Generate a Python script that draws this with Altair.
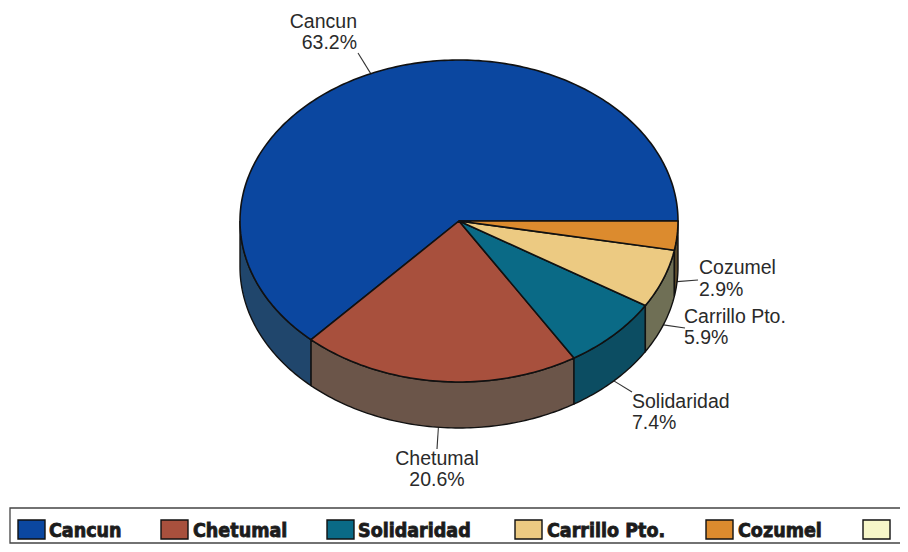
import math
import altair as alt

# ---- values ----
categories = ["Cancun", "Chetumal", "Solidaridad", "Carrillo Pto.", "Cozumel"]
shares = [63.2, 20.6, 7.4, 5.9, 2.9]
percent_labels = ["63.2%", "20.6%", "7.4%", "5.9%", "2.9%"]
top_colors = ["#0b47a0", "#a8503d", "#0a6a86", "#ecca82", "#dc8b2e"]
side_colors = ["#20466c", "#6b5549", "#0c4d62", "#6f6f55", "#5b4a2b"]
empty_legend_color = "#f6f6c8"

# ---- layout (image pixels) ----
CX, CY, RX, RY, DEPTH = 459, 221, 219, 161, 46
OFFSET = 8
FONT = "Liberation Sans"
LABEL_SIZE = 19.5
INK = "#2a2a2a"


def rim(t_deg, depth=0):
    t = math.radians(t_deg)
    return [CX + RX * math.cos(t), CY - RY * math.sin(t) + depth]


def feature(geom_type, coords, **props):
    return {"type": "Feature", "geometry": {"type": geom_type, "coordinates": coords}, "properties": props}


def steps(a, b):
    n = max(2, int(abs(b - a)) + 1)
    return [a + (b - a) * i / n for i in range(n + 1)]


tops, walls, leaders = [], [], []
acc = 0.0
leader_ends = [(358, 53), (437, 449), (632, 392), (685, 328), (698, 280)]
for i, share in enumerate(shares):
    a, b = acc * 3.6, (acc + share) * 3.6
    acc += share
    ring = [[CX, CY]] + [rim(t) for t in steps(a, b)] + [[CX, CY]]
    tops.append(feature("Polygon", [ring], color=top_colors[i]))
    lo, hi = max(a, 180), min(b, 360)
    if hi > lo:
        upper = [rim(t) for t in steps(lo, hi)]
        lower = [rim(t, DEPTH) for t in steps(hi, lo)]
        walls.append(feature("Polygon", [upper + lower + [upper[0]]], color=side_colors[i]))
    mid = (a + b) / 2
    start = rim(mid, DEPTH if 180 < mid < 360 else 0)
    leaders.append(feature("LineString", [start, list(leader_ends[i])], color="#333333"))

# label lines: anchor x, first baseline, second baseline, alignment
label_layout = [
    (357, 28, 49, "right"),
    (437, 465, 486, "center"),
    (632, 408, 429, "left"),
    (684, 323, 344, "left"),
    (699, 274, 296, "left"),
]
label_rows = []
for i, (x, y1, y2, al) in enumerate(label_layout):
    label_rows.append({"lon": x, "lat": y1, "txt": categories[i], "al": al})
    label_rows.append({"lon": x, "lat": y2, "txt": percent_labels[i], "al": al})

projection = alt.Projection(type="identity", scale=1, translate=[-OFFSET, -OFFSET])


def shapes(features, **mark):
    return alt.Chart(alt.Data(values=features)).mark_geoshape(**mark).encode(
        fill=alt.Fill("properties.color:N", scale=None)
    ).project(**projection.to_dict())


def lines(features, **mark):
    return alt.Chart(alt.Data(values=features)).mark_geoshape(filled=False, **mark).encode(
        stroke=alt.Stroke("properties.color:N", scale=None)
    ).project(**projection.to_dict())


def label_layer(align):
    rows = [r for r in label_rows if r["al"] == align]
    return alt.Chart(alt.Data(values=rows)).mark_text(
        font=FONT, fontSize=LABEL_SIZE, color=INK, align=align, baseline="alphabetic"
    ).encode(longitude="lon:Q", latitude="lat:Q", text="txt:N").project(**projection.to_dict())


# legend
swatch_x = [18, 161, 327, 515, 706, 863]
text_x = [49, 193, 358, 547, 738]
SW_W, SW_Y0, SW_Y1 = 27, 520, 539
legend_colors = top_colors + [empty_legend_color]
swatches = [
    feature("Polygon", [[[x, SW_Y0], [x + SW_W, SW_Y0], [x + SW_W, SW_Y1], [x, SW_Y1], [x, SW_Y0]]], color=c)
    for x, c in zip(swatch_x, legend_colors)
]
legend_box = [feature("Polygon", [[[10, 508], [910, 508], [910, 543], [10, 543], [10, 508]]], color="#ffffff")]
legend_rows = [{"lon": x, "lat": 537, "txt": c} for x, c in zip(text_x, categories)]
legend_text = alt.Chart(alt.Data(values=legend_rows)).mark_text(
    font="DejaVu Sans Condensed", fontWeight="bold", fontSize=19.5, color="#1c1c1c",
    stroke="#1c1c1c", strokeWidth=0.8, align="left", baseline="alphabetic"
).encode(longitude="lon:Q", latitude="lat:Q", text="txt:N").project(**projection.to_dict())

chart = alt.layer(
    lines(leaders, strokeWidth=1.1),
    shapes(walls, stroke="#111111", strokeWidth=1.4),
    shapes(tops, stroke="#111111", strokeWidth=1.6),
    label_layer("right"),
    label_layer("center"),
    label_layer("left"),
    shapes(legend_box, stroke="#444444", strokeWidth=1.3),
    shapes(swatches, stroke="#111111", strokeWidth=1.4),
    legend_text,
).properties(width=892, height=536, padding=0, background="#ffffff").configure_view(stroke=None)

chart.save("out.html", embed_options={"renderer": "svg", "actions": False})
